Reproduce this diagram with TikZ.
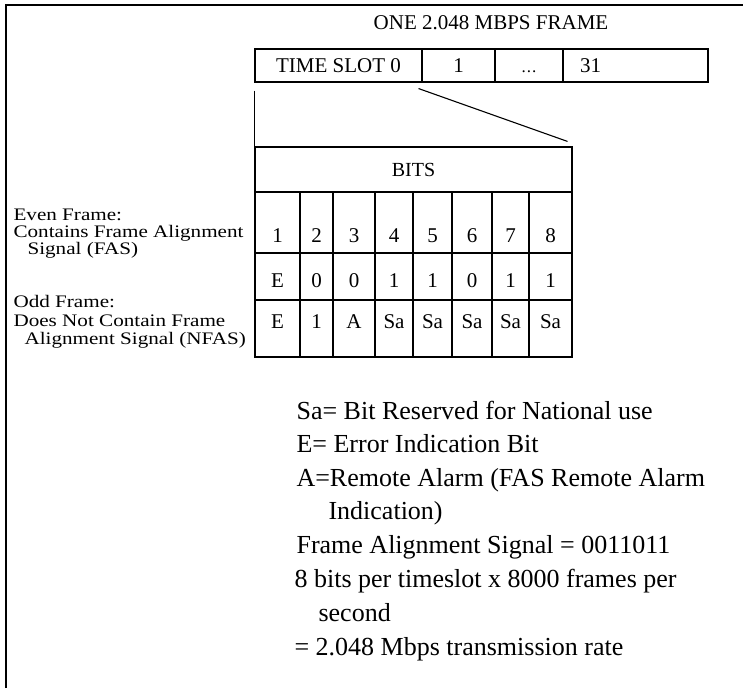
\documentclass[tikz,border=0pt]{standalone}
\usepackage{fontspec}
\setmainfont{Liberation Serif}
\newfontfamily\lblfont[FakeStretch=1.2]{Liberation Serif}
\tikzset{
  cell/.style={draw,line width=1.1pt,inner sep=0pt,text height=14pt,text depth=0pt,font=\fontsize{21}{24}\selectfont},
  bit/.style={anchor=base,inner sep=0pt,font=\fontsize{21}{24}\selectfont},
  lbl/.style={anchor=base west,inner sep=0pt,font=\lblfont\fontsize{17.6}{18}\selectfont},
  note/.style={anchor=base west,inner sep=0pt,font=\fontsize{26}{30}\selectfont}
}

\begin{document}
\begin{tikzpicture}[x=1pt,y=-1pt,line width=1.1pt]
\useasboundingbox (0,0) rectangle (743,688);
% outer frame
\draw[line width=1.8pt] (6,688) -- (6,5) -- (743,5);
\node[anchor=base,inner sep=0pt,font=\fontsize{21}{24}\selectfont] (title) at (491,29) {ONE 2.048 MBPS FRAME};
% time slots
\node[cell,minimum width=167pt,minimum height=33pt] (ts0) at (338.5,65.5) {TIME SLOT 0};
\node[cell,minimum width=73pt,minimum height=33pt] (ts1) at (458.5,65.5) {1};
\node[cell,minimum width=68pt,minimum height=33pt,font=\fontsize{17}{20}\selectfont] (tsdots) at (529,65.5) {.\kern1pt.\kern1pt.};
\node[cell,minimum height=33pt,text width=111pt,inner xsep=17pt,align=left] (ts31) at (635.5,65.5) {31};
% bits
\node[cell,font=\fontsize{20}{24}\selectfont,minimum width=317pt,minimum height=45pt] (bits) at (413.5,169.5) {BITS};
\draw ([yshift=-8pt]ts0.south west) -- (bits.north west);
\draw ([shift={(-4pt,-6pt)}]ts0.south east) -- ([shift={(-5pt,5pt)}]bits.north east);
\draw (255,192) rectangle (572,357);
\foreach \x in {300,333,375,413,452,492,529}
  \draw (\x,192) -- (\x,357);
\draw[line width=1.5pt] (255,253) -- (572,253);
\draw[line width=1.5pt] (255,300) -- (572,300);
\foreach \cx/\a/\b/\c [count=\i] in {277.5/1/E/E,316.5/2/0/1,354/3/0/A,394/4/1/Sa,432.5/5/1/Sa,472/6/0/Sa,510.5/7/1/Sa,550.5/8/1/Sa}
{
  \node[bit] (num\i) at (\cx,242) {\a};
  \node[bit] (fas\i) at (\cx,287) {\b};
  \node[bit] (nfas\i) at (\cx,328) {\c};
}
% row labels
\node[lbl] (even) at (13,220) {Even Frame:};
\node[lbl] (even2) at (13,237) {Contains Frame Alignment};
\node[lbl] (even3) at (27,254) {Signal (FAS)};
\node[lbl] (odd) at (13,307) {Odd Frame:};
\node[lbl] (odd2) at (13,326) {Does Not Contain Frame};
\node[lbl] (odd3) at (24,344) {Alignment Signal (NFAS)};
% notes
\node[note] (sa) at (296,419) {Sa= Bit Reserved for National use};
\node[note] (err) at (296,452) {E= Error Indication Bit};
\node[note] (alarm) at (296,486) {A=Remote Alarm (FAS Remote Alarm};
\node[note] (alarm2) at (328,519) {Indication)};
\node[note] (fasig) at (296,553) {Frame Alignment Signal = 0011011};
\node[note] (rate) at (294,587) {8 bits per timeslot x 8000 frames per};
\node[note] (rate2) at (318,621) {second};
\node[note] (rate3) at (294,655) {= 2.048 Mbps transmission rate};
\end{tikzpicture}
\end{document}
